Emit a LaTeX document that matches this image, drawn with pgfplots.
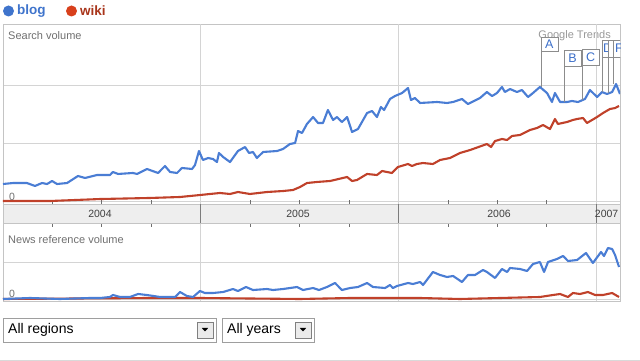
\documentclass[border=0pt]{standalone}
\usepackage{pgfplots}
\pgfplotsset{compat=1.18}
\usepackage{fontspec}
\setmainfont{Liberation Sans}
\definecolor{gblue}{HTML}{4A7DD4}
\definecolor{gred}{HTML}{C0412A}
\definecolor{gridc}{HTML}{D4D4D4}
\definecolor{framec}{HTML}{C4C4C4}
\definecolor{tickc}{HTML}{6E6E6E}
\definecolor{bandc}{HTML}{EEEEEE}
\definecolor{labc}{HTML}{707070}
\definecolor{legblue}{HTML}{3F74CC}
\definecolor{legred}{HTML}{D8401C}
\definecolor{wikic}{HTML}{A8341A}
\definecolor{flagc}{HTML}{8C8C8C}
\definecolor{flagtxt}{HTML}{3C6FC9}

\tikzset{
  bl/.style={gblue, line width=2.1pt, line join=round},
  rd/.style={gred, line width=2.1pt, line join=round},
  fl/.style={flagc, line width=0.7pt},
  fb/.style={draw=flagc, fill=white, line width=0.7pt},
  ft/.style={text=flagtxt, font=\fontsize{12.5}{13}\selectfont, inner sep=0pt}
}
\pgfplotsset{gt/.style={
  scale only axis, width=617pt, xmin=2004, xmax=2007.12,
  axis line style={framec, line width=0.8pt},
  xtick={2004.25,2004.5,2004.75,2005,2005.25,2005.5,2005.75,2006,2006.25,2006.5,2006.75,2007},
  xticklabels={}, yticklabels={},
  ytick style={draw=none},
  ymajorgrids, grid style={gridc, line width=0.8pt},
  tick align=inside, major tick length=4pt,
  xtick style={tickc, line width=0.8pt},
  extra x ticks={2005,2006,2007}, extra x tick labels={},
  extra x tick style={xmajorgrids=true, major tick length=0pt},
  clip=true}
}

\begin{document}
\begin{tikzpicture}
\path[use as bounding box] (0pt,0pt) rectangle (640pt,361pt);
\begin{scope}[x=1pt,y=1pt]
\fill[white] (0,0) rectangle (640,361);
% legend
\fill[legblue] (8.5,350) circle (5.5);
\node[anchor=west, inner sep=0pt, text=legblue, font=\fontsize{13.5}{14}\selectfont\bfseries] at (17,350) {blog};
\fill[legred] (71.5,350) circle (5.5);
\node[anchor=west, inner sep=0pt, text=wikic, font=\fontsize{13.5}{14}\selectfont\bfseries] at (80,350) {wiki};
% Google Trends watermark
\node[anchor=east, inner sep=0pt, text=gray!80, font=\fontsize{11}{12}\selectfont] at (611,325) {Google Trends};
\end{scope}

% upper axis
\begin{axis}[gt, at={(3pt,157pt)}, anchor=south west, height=180pt,
  ymin=-0.0517, ymax=3.052, ytick={0,1,2}, xtick pos=bottom]
\addplot[rd] coordinates {
(2004.000,0.000) (2004.238,0.000) (2004.491,0.034) (2004.743,0.052) (2004.895,0.069)
(2004.996,0.103) (2005.047,0.121) (2005.097,0.138) (2005.148,0.121) (2005.188,0.155)
(2005.249,0.121) (2005.335,0.155) (2005.416,0.172) (2005.467,0.190) (2005.502,0.241)
(2005.537,0.310) (2005.588,0.328) (2005.654,0.345) (2005.740,0.414) (2005.765,0.345)
(2005.790,0.362) (2005.841,0.466) (2005.891,0.448) (2005.917,0.517) (2005.967,0.483)
(2005.997,0.586) (2006.048,0.638) (2006.068,0.603) (2006.093,0.638) (2006.124,0.655)
(2006.174,0.638) (2006.210,0.707) (2006.260,0.741) (2006.311,0.828) (2006.362,0.879)
(2006.447,0.983) (2006.468,0.931) (2006.488,1.034) (2006.523,1.069) (2006.549,1.052)
(2006.574,1.121) (2006.614,1.138) (2006.665,1.224) (2006.700,1.259) (2006.731,1.310)
(2006.766,1.241) (2006.791,1.414) (2006.806,1.328) (2006.852,1.362) (2006.882,1.397)
(2006.903,1.414) (2006.933,1.431) (2006.953,1.345) (2007.004,1.448) (2007.034,1.517)
(2007.069,1.586) (2007.095,1.603) (2007.115,1.638)};
\addplot[bl] coordinates {
(2004.000,0.293) (2004.051,0.310) (2004.121,0.310) (2004.162,0.259) (2004.197,0.310)
(2004.223,0.293) (2004.248,0.345) (2004.273,0.293) (2004.324,0.310) (2004.379,0.431)
(2004.415,0.397) (2004.475,0.448) (2004.541,0.448) (2004.556,0.500) (2004.582,0.466)
(2004.657,0.483) (2004.678,0.466) (2004.728,0.552) (2004.784,0.483) (2004.819,0.603)
(2004.845,0.500) (2004.880,0.483) (2004.905,0.569) (2004.956,0.552) (2004.971,0.621)
(2004.991,0.862) (2005.011,0.707) (2005.037,0.741) (2005.062,0.724) (2005.082,0.672)
(2005.092,0.828) (2005.113,0.759) (2005.148,0.672) (2005.188,0.862) (2005.224,0.931)
(2005.244,0.828) (2005.264,0.845) (2005.284,0.741) (2005.315,0.845) (2005.386,0.862)
(2005.416,0.897) (2005.451,0.983) (2005.477,1.000) (2005.492,1.207) (2005.512,1.172)
(2005.537,1.328) (2005.568,1.448) (2005.593,1.345) (2005.618,1.345) (2005.643,1.569)
(2005.669,1.397) (2005.689,1.448) (2005.714,1.362) (2005.740,1.448) (2005.765,1.190)
(2005.795,1.241) (2005.841,1.517) (2005.866,1.552) (2005.891,1.448) (2005.911,1.621)
(2005.927,1.569) (2005.957,1.759) (2005.982,1.810) (2006.018,1.862) (2006.048,1.948)
(2006.063,1.741) (2006.083,1.776) (2006.109,1.690) (2006.195,1.707) (2006.245,1.690)
(2006.276,1.707) (2006.321,1.759) (2006.351,1.672) (2006.412,1.776) (2006.447,1.879)
(2006.473,1.810) (2006.498,1.862) (2006.523,1.966) (2006.538,1.879) (2006.564,1.931)
(2006.599,1.879) (2006.624,1.914) (2006.655,1.793) (2006.680,1.862) (2006.715,1.966)
(2006.751,1.862) (2006.776,1.707) (2006.791,1.862) (2006.817,1.707) (2006.852,1.707)
(2006.877,1.724) (2006.908,1.707) (2006.943,1.759) (2006.968,1.914) (2007.004,1.793)
(2007.029,1.879) (2007.054,1.845) (2007.080,1.879) (2007.100,2.017) (2007.120,1.845)};
% annotation flags
\addplot[fl] coordinates {(2006.720,1.966) (2006.720,2.586)};
\addplot[fl] coordinates {(2006.837,1.707) (2006.837,2.328)};
\addplot[fl] coordinates {(2006.928,1.741) (2006.928,2.345)};
\addplot[fl] coordinates {(2007.029,1.879) (2007.029,2.483)};
\addplot[fl] coordinates {(2007.059,1.862) (2007.059,2.483)};
\addplot[fl] coordinates {(2007.085,2.017) (2007.085,2.483)};
\draw[fb] (axis cs:2006.720,2.828) rectangle (axis cs:2006.806,2.586);
\node[ft] at (axis cs:2006.763,2.707) {A};
\draw[fb] (axis cs:2006.837,2.603) rectangle (axis cs:2006.923,2.328);
\node[ft] at (axis cs:2006.880,2.465) {B};
\draw[fb] (axis cs:2006.928,2.621) rectangle (axis cs:2007.014,2.345);
\node[ft] at (axis cs:2006.971,2.483) {C};
\draw[fb] (axis cs:2007.029,2.776) rectangle (axis cs:2007.115,2.483);
\node[ft] at (axis cs:2007.058,2.630) {D};
\draw[fb] (axis cs:2007.059,2.776) rectangle (axis cs:2007.145,2.483);
\node[ft] at (axis cs:2007.102,2.630) {E};
\draw[fb] (axis cs:2007.085,2.776) rectangle (axis cs:2007.171,2.483);
\node[ft] at (axis cs:2007.114,2.630) {F};
\end{axis}

% lower axis
\begin{axis}[gt, at={(3pt,60pt)}, anchor=south west, height=78pt,
  ymin=-0.054, ymax=2.054, ytick={0,1}, xtick pos=top]
\addplot[rd] coordinates {
(2004.000,0.000) (2004.743,0.027) (2004.996,0.027) (2005.502,0.000) (2005.755,0.027)
(2006.109,0.027) (2006.311,0.000) (2006.513,0.027) (2006.715,0.054) (2006.781,0.108)
(2006.817,0.135) (2006.857,0.054) (2006.882,0.162) (2006.918,0.135) (2006.958,0.189)
(2006.994,0.108) (2007.034,0.108) (2007.080,0.162) (2007.115,0.054)};
\addplot[bl] coordinates {
(2004.000,0.000) (2004.137,0.027) (2004.288,0.000) (2004.440,0.027) (2004.491,0.027)
(2004.541,0.054) (2004.556,0.108) (2004.592,0.054) (2004.642,0.054) (2004.683,0.135)
(2004.728,0.108) (2004.794,0.054) (2004.870,0.054) (2004.895,0.189) (2004.930,0.081)
(2004.961,0.054) (2004.996,0.216) (2005.021,0.162) (2005.062,0.162) (2005.113,0.189)
(2005.163,0.270) (2005.188,0.216) (2005.229,0.324) (2005.264,0.243) (2005.335,0.270)
(2005.365,0.243) (2005.416,0.270) (2005.487,0.324) (2005.517,0.243) (2005.568,0.297)
(2005.598,0.243) (2005.638,0.324) (2005.679,0.432) (2005.714,0.243) (2005.755,0.297)
(2005.795,0.324) (2005.841,0.432) (2005.871,0.324) (2005.932,0.297) (2005.957,0.378)
(2005.972,0.297) (2005.992,0.351) (2006.048,0.432) (2006.073,0.405) (2006.109,0.459)
(2006.124,0.378) (2006.174,0.730) (2006.210,0.649) (2006.245,0.595) (2006.276,0.622)
(2006.321,0.459) (2006.351,0.649) (2006.387,0.649) (2006.427,0.784) (2006.447,0.730)
(2006.488,0.568) (2006.523,0.811) (2006.549,0.730) (2006.564,0.838) (2006.614,0.811)
(2006.650,0.757) (2006.680,0.946) (2006.715,1.000) (2006.736,0.730) (2006.756,1.000)
(2006.801,1.081) (2006.832,1.162) (2006.857,1.027) (2006.903,1.054) (2006.948,1.243)
(2006.983,0.973) (2007.024,1.270) (2007.039,1.162) (2007.059,1.378) (2007.080,1.351)
(2007.095,1.189) (2007.115,0.865)};
\end{axis}

\begin{scope}[x=1pt,y=1pt]
\node[anchor=west, inner sep=0pt, text=labc, font=\fontsize{11}{12}\selectfont] at (8,325.5) {Search volume};
\node[inner sep=0pt, text=tickc, font=\fontsize{10.5}{11}\selectfont] at (12,164) {0};
% date band
\fill[bandc] (3,138) rectangle (620,157);
\draw[framec, line width=0.8pt] (3,138) rectangle (620,157);
\foreach \xx in {200.76,398.51,596.27} \draw[tickc!90, line width=0.9pt] (\xx,138) -- (\xx,157);
\node[text=black!75, font=\fontsize{10.5}{11}\selectfont, inner sep=0pt] at (100,147.5) {2004};
\node[text=black!75, font=\fontsize{10.5}{11}\selectfont, inner sep=0pt] at (298,147.5) {2005};
\node[text=black!75, font=\fontsize{10.5}{11}\selectfont, inner sep=0pt] at (499,147.5) {2006};
\node[anchor=east, text=black!75, font=\fontsize{10.5}{11}\selectfont, inner sep=0pt] at (618.5,147.5) {2007};
\node[anchor=west, inner sep=0pt, text=labc, font=\fontsize{11}{12}\selectfont] at (8,121) {News reference volume};
\node[inner sep=0pt, text=tickc, font=\fontsize{10.5}{11}\selectfont] at (12,67.5) {0};
% drop-down boxes
\draw[black!38, line width=0.8pt, fill=white] (3,19) rectangle (216,43);
\node[anchor=west, inner sep=0pt, font=\fontsize{14}{15}\selectfont] at (8,31) {All regions};
\draw[black!50, line width=0.7pt, fill=black!8] (197,23) rectangle (213,39);
\fill[black] (201.8,33) -- (208.2,33) -- (205,29.5) -- cycle;
\draw[black!38, line width=0.8pt, fill=white] (222,19) rectangle (314,43);
\node[anchor=west, inner sep=0pt, font=\fontsize{14}{15}\selectfont] at (227,31) {All years};
\draw[black!50, line width=0.7pt, fill=black!8] (295,23) rectangle (311,39);
\fill[black] (299.8,33) -- (306.2,33) -- (303,29.5) -- cycle;
\draw[black!15, line width=0.8pt] (0,1) -- (640,1);
\end{scope}
\end{tikzpicture}
\end{document}
